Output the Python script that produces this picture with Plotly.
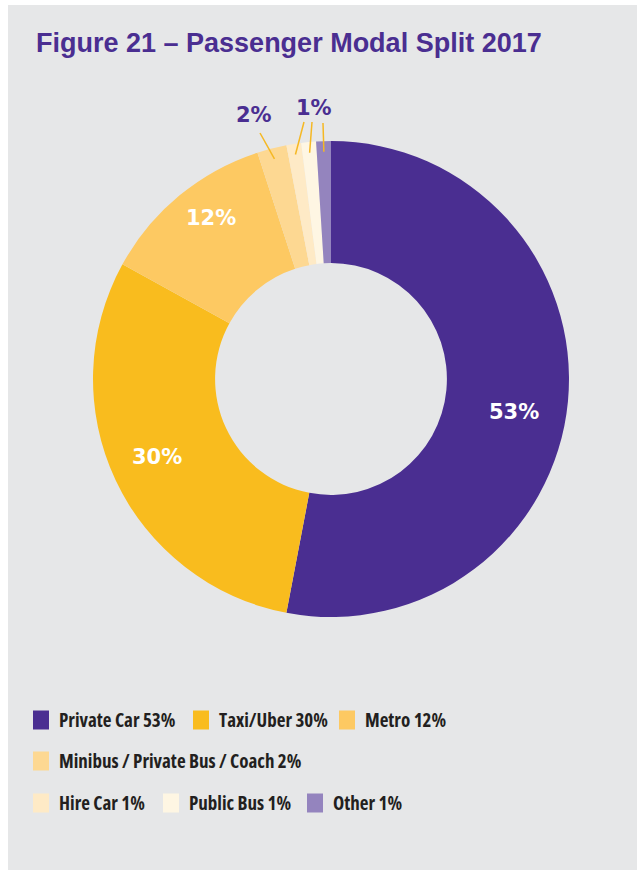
import math
import plotly.graph_objects as go

# ---- data ----
categories = ["Private Car", "Taxi/Uber", "Metro", "Minibus / Private Bus / Coach",
              "Hire Car", "Public Bus", "Other"]
values = [53, 30, 12, 2, 1, 1, 1]
colors = ["#4a2e91", "#f9bc1e", "#fdc962", "#fdd892", "#feeac6", "#fef6e3", "#9484be"]

title_text = "Figure 21 – Passenger Modal Split 2017"

W, H = 639, 870
PURPLE = "#4a2e91"
BG = "#e6e7e8"
LEADER = "#f5b823"
LABEL_FONT = "DejaVu Sans, Liberation Sans, sans-serif"

# pie geometry (pixels)
cx, cy, R = 331, 379, 238
dom_x = [(cx - R) / W, (cx + R) / W]
dom_y = [1 - (cy + R) / H, 1 - (cy - R) / H]

def px(x):
    return x / W

def py(y):
    return 1 - y / H

fig = go.Figure(go.Pie(
    labels=categories,
    values=values,
    sort=False,
    direction="clockwise",
    rotation=0,
    hole=0.487,
    marker=dict(colors=colors, line=dict(width=0)),
    textinfo="none",
    domain=dict(x=dom_x, y=dom_y),
    showlegend=False,
    hoverinfo="label+percent",
))

shapes = [
    dict(type="rect", xref="paper", yref="paper", x0=px(8), x1=px(637), y0=0, y1=py(5),
         fillcolor=BG, line=dict(width=0), layer="below"),
]
annotations = [
    dict(text="<b>" + title_text + "</b>", xref="paper", yref="paper",
         x=px(34), y=py(43), xanchor="left", yanchor="middle", showarrow=False,
         font=dict(family="Liberation Sans, Arial, sans-serif", size=27, color=PURPLE)),
]

# inside labels for the large slices (label placement in pixels)
inside_pos = {0: (514, 412), 1: (157, 457), 2: (211, 218)}
for i, (lx, ly) in inside_pos.items():
    annotations.append(dict(
        text="<b>%d%%</b>" % values[i], xref="paper", yref="paper",
        x=px(lx), y=py(ly), xanchor="center", yanchor="middle", showarrow=False,
        font=dict(family=LABEL_FONT, size=21, color="white")))

# outside labels with leader lines for small slices
total = sum(values)
cum = 0
mids = []
for v in values:
    mids.append((cum + v / 2) / total * 360)
    cum += v

def slice_point(i, frac):
    a = math.radians(mids[i])
    return cx + frac * R * math.sin(a), cy - frac * R * math.cos(a)

groups = [
    ([3], (254, 115), [(260, 133)]),
    ([4, 5, 6], (314, 108), [(304, 122), (312, 122), (323, 123)]),
]
for idxs, (lx, ly), starts in groups:
    annotations.append(dict(
        text="<b>%d%%</b>" % values[idxs[0]], xref="paper", yref="paper",
        x=px(lx), y=py(ly), xanchor="center", yanchor="middle", showarrow=False,
        font=dict(family=LABEL_FONT, size=21, color=PURPLE)))
    for i, (sx, sy) in zip(idxs, starts):
        ex, ey = slice_point(i, 0.955)
        shapes.append(dict(type="line", xref="paper", yref="paper",
                           x0=px(sx), y0=py(sy), x1=px(ex), y1=py(ey),
                           line=dict(color=LEADER, width=1.5), layer="above"))

# custom legend
legend_rows = [([0, 1, 2], [33, 193, 339], 720),
               ([3], [33], 761),
               ([4, 5, 6], [33, 163, 307], 803)]
for idxs, xs, yc in legend_rows:
    for i, x in zip(idxs, xs):
        shapes.append(dict(type="rect", xref="paper", yref="paper",
                           x0=px(x), x1=px(x + 16), y0=py(yc + 9.5), y1=py(yc - 9.5),
                           fillcolor=colors[i], line=dict(width=0)))
        annotations.append(dict(
            text="<span style='font-stretch:condensed'>%s %d%%</span>" % (categories[i], values[i]),
            xref="paper", yref="paper",
            x=px(x + 24), y=py(yc), xanchor="left", yanchor="middle", showarrow=False,
            font=dict(family="Open Sans", size=19, weight="bold", color="#231f20")))

fig.update_layout(
    width=W, height=H,
    margin=dict(l=0, r=0, t=0, b=0),
    paper_bgcolor="white",
    plot_bgcolor="white",
    shapes=shapes,
    annotations=annotations,
)

fig.write_html("out.html")
